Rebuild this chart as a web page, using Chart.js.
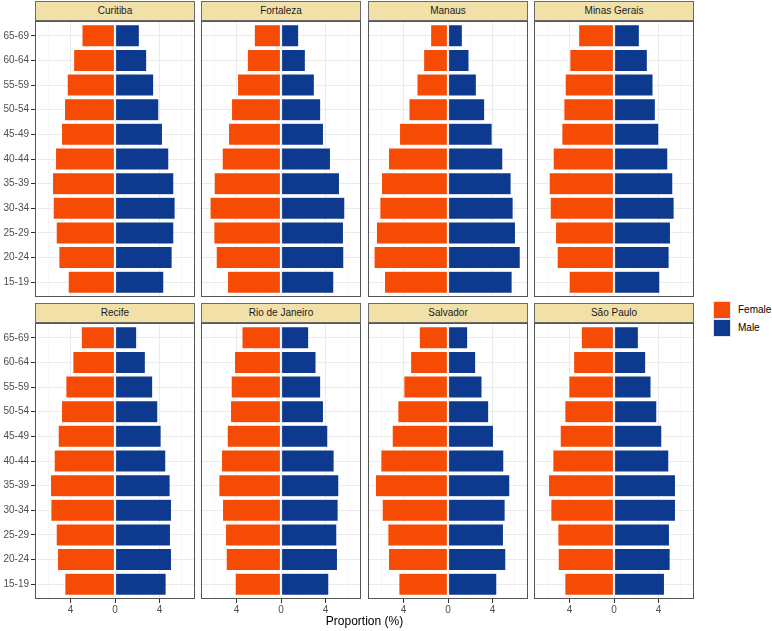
<!DOCTYPE html>
<html>
<head>
<meta charset="utf-8">
<script src="https://cdn.jsdelivr.net/npm/chart.js@4.4.1/dist/chart.umd.min.js"></script>
<style>
  html, body { margin: 0; padding: 0; background: #ffffff; }
  body { width: 772px; height: 631px; position: relative; overflow: hidden; font-family: "Liberation Sans", Arial, sans-serif; }
  .strip { position: absolute; box-sizing: border-box; border: 1px solid #6b6b6b; background: #F2E0A9; color: #1A1A1A; font-size: 10px; text-align: center; }
  .cv { position: absolute; }
  .axis-title { position: absolute; left: 0; width: 729px; top: 614px; text-align: center; font-size: 12px; color: #000; }
  .legend-key { position: absolute; box-sizing: border-box; width: 18px; height: 18px; border: 1px solid #dfe6f2; }
  .legend-text { position: absolute; font-size: 10px; color: #000; }
</style>
</head>
<body>
<script>
// ---- data (age groups ordered bottom to top) ----
const ageGroups = ["15-19","20-24","25-29","30-34","35-39","40-44","45-49","50-54","55-59","60-64","65-69"];
const cities = ["Curitiba","Fortaleza","Manaus","Minas Gerais","Recife","Rio de Janeiro","Salvador","São Paulo"];
const xTickValues = [-4, 0, 4];

const curitibaFemale   = [4.22, 5.06, 5.30, 5.57, 5.63, 5.36, 4.82, 4.55, 4.31, 3.73, 2.98];
const curitibaMale     = [4.40, 5.15, 5.30, 5.42, 5.30, 4.85, 4.28, 3.95, 3.49, 2.86, 2.20];
const fortalezaFemale  = [4.82, 5.84, 6.05, 6.39, 6.02, 5.30, 4.73, 4.46, 3.92, 3.04, 2.41];
const fortalezaMale    = [4.76, 5.66, 5.63, 5.75, 5.27, 4.46, 3.83, 3.58, 3.01, 2.20, 1.60];
const manausFemale     = [5.72, 6.66, 6.45, 6.14, 5.99, 5.36, 4.37, 3.52, 2.80, 2.20, 1.57];
const manausMale       = [5.78, 6.51, 6.08, 5.87, 5.69, 4.94, 3.98, 3.31, 2.56, 1.90, 1.30];
const minasFemale      = [4.04, 5.12, 5.27, 5.75, 5.84, 5.48, 4.70, 4.52, 4.40, 3.98, 3.19];
const minasMale        = [4.13, 4.97, 5.09, 5.42, 5.30, 4.85, 4.04, 3.73, 3.52, 3.01, 2.29];
const recifeFemale     = [4.52, 5.18, 5.30, 5.78, 5.81, 5.48, 5.12, 4.82, 4.43, 3.80, 3.04];
const recifeMale       = [4.61, 5.09, 5.00, 5.09, 4.97, 4.58, 4.16, 3.86, 3.40, 2.74, 1.96];
const rioFemale        = [4.13, 4.94, 5.00, 5.27, 5.60, 5.36, 4.85, 4.55, 4.49, 4.19, 3.52];
const rioMale          = [4.31, 5.09, 5.03, 5.15, 5.21, 4.79, 4.22, 3.83, 3.58, 3.16, 2.50];
const salvadorFemale   = [4.43, 5.36, 5.42, 5.93, 6.54, 6.05, 5.03, 4.52, 3.98, 3.37, 2.59];
const salvadorMale     = [4.40, 5.21, 5.00, 5.15, 5.57, 5.03, 4.10, 3.67, 3.07, 2.50, 1.78];
const saoPauloFemale   = [4.43, 5.03, 5.06, 5.69, 5.90, 5.51, 4.85, 4.43, 4.07, 3.64, 2.95];
const saoPauloMale     = [4.55, 5.06, 5.00, 5.54, 5.54, 4.94, 4.31, 3.86, 3.34, 2.86, 2.20];

const femaleByCity = [curitibaFemale, fortalezaFemale, manausFemale, minasFemale, recifeFemale, rioFemale, salvadorFemale, saoPauloFemale];
const maleByCity   = [curitibaMale, fortalezaMale, manausMale, minasMale, recifeMale, rioMale, salvadorMale, saoPauloMale];

// ---- style / layout ----
const FEMALE_COLOR = "#F54B05";
const MALE_COLOR = "#0D3A8E";
const colLefts = [35, 201, 368, 534];
const panelW = 160;
const panelH = 276;
const rowStripTops = [1, 303];
const stripH = 20;
const Y_AXIS_W = 35;
const X_AXIS_H = 22;
const FONT = "'Liberation Sans', Arial, sans-serif";

const panelBorder = {
  id: 'panelBorder',
  afterDraw(chart) {
    const a = chart.chartArea, ctx = chart.ctx;
    ctx.save();
    ctx.strokeStyle = '#555555';
    ctx.lineWidth = 1;
    ctx.strokeRect(a.left + 0.5, a.top + 0.5, a.right - a.left - 1, a.bottom - a.top - 1);
    ctx.restore();
  }
};

cities.forEach((city, idx) => {
  const row = Math.floor(idx / 4), col = idx % 4;
  const leftCol = col === 0, bottomRow = row === 1;
  const stripTop = rowStripTops[row];
  const plotTop = stripTop + stripH;

  const strip = document.createElement('div');
  strip.className = 'strip';
  strip.style.left = colLefts[col] + 'px';
  strip.style.top = stripTop + 'px';
  strip.style.width = panelW + 'px';
  strip.style.height = stripH + 'px';
  strip.style.lineHeight = (stripH - 2) + 'px';
  strip.textContent = city;

  const yW = leftCol ? Y_AXIS_W : 0;
  const xH = bottomRow ? X_AXIS_H : 0;
  const cv = document.createElement('canvas');
  cv.className = 'cv';
  const cw = panelW + yW, ch = panelH + xH;
  cv.width = cw; cv.height = ch;
  cv.style.width = cw + 'px'; cv.style.height = ch + 'px';
  cv.style.left = (colLefts[col] - yW) + 'px';
  cv.style.top = plotTop + 'px';
  document.body.appendChild(cv);
  document.body.appendChild(strip);

  const female = femaleByCity[idx], male = maleByCity[idx];
  new Chart(cv, {
    type: 'bar',
    data: {
      datasets: [
        { label: 'Female', data: female.map((v, i) => ({ x: -v, y: i })), backgroundColor: FEMALE_COLOR },
        { label: 'Male', data: male.map((v, i) => ({ x: v, y: i })), backgroundColor: MALE_COLOR }
      ]
    },
    options: {
      indexAxis: 'y',
      responsive: false,
      animation: false,
      events: [],
      layout: { padding: 0 },
      datasets: { bar: { grouped: false, barPercentage: 0.9, categoryPercentage: 1.0, borderWidth: 0.6, borderColor: 'rgba(255,255,255,0.75)', borderSkipped: false } },
      plugins: { legend: { display: false }, tooltip: { enabled: false }, title: { display: false } },
      scales: {
        x: {
          type: 'linear', min: -7.2, max: 7.2, offset: false,
          ticks: {
            stepSize: 2, includeBounds: false, display: bottomRow, padding: 1,
            color: '#4D4D4D', font: { family: FONT, size: 10 },
            autoSkip: false, maxRotation: 0,
            callback: (v) => xTickValues.includes(v) ? String(Math.abs(v)) : ''
          },
          grid: {
            offset: false, drawTicks: bottomRow, tickLength: 4, tickWidth: 1,
            color: (c) => (c.tick && xTickValues.includes(c.tick.value)) ? '#EBEBEB' : '#F3F3F3',
            lineWidth: (c) => (c.tick && xTickValues.includes(c.tick.value)) ? 1 : 0.6,
            tickColor: (c) => (c.tick && xTickValues.includes(c.tick.value)) ? '#333333' : 'rgba(0,0,0,0)'
          },
          border: { display: false },
          afterFit: (s) => { s.height = xH; s.paddingLeft = 0; s.paddingRight = 0; s.paddingTop = 0; s.paddingBottom = 0; }
        },
        y: {
          type: 'linear', min: -0.6, max: ageGroups.length - 0.4, offset: false,
          ticks: {
            stepSize: 1, includeBounds: false, display: leftCol, padding: 2,
            color: '#4D4D4D', font: { family: FONT, size: 10 },
            autoSkip: false,
            callback: (v) => ageGroups[v] !== undefined ? ageGroups[v] : ''
          },
          grid: { offset: false, drawTicks: leftCol, tickLength: 4, tickWidth: 1, color: '#EBEBEB', lineWidth: 1, tickColor: '#333333' },
          border: { display: false },
          afterFit: (s) => { s.width = yW; s.paddingLeft = 0; s.paddingRight = 0; s.paddingTop = 0; s.paddingBottom = 0; }
        }
      }
    },
    plugins: [panelBorder]
  });
});

// axis title
const t = document.createElement('div');
t.className = 'axis-title';
t.textContent = 'Proportion (%)';
t.style.left = '0px';
t.style.width = (colLefts[0] + colLefts[3] + panelW) + 'px';
document.body.appendChild(t);

// legend
const legendItems = [['Female', FEMALE_COLOR, 301], ['Male', MALE_COLOR, 319]];
legendItems.forEach(([name, color, top]) => {
  const k = document.createElement('div');
  k.className = 'legend-key';
  k.style.left = '713px'; k.style.top = top + 'px'; k.style.background = color;
  document.body.appendChild(k);
  const l = document.createElement('div');
  l.className = 'legend-text';
  l.style.left = '738px'; l.style.top = (top + 3) + 'px';
  l.textContent = name;
  document.body.appendChild(l);
});
</script>
</body>
</html>
